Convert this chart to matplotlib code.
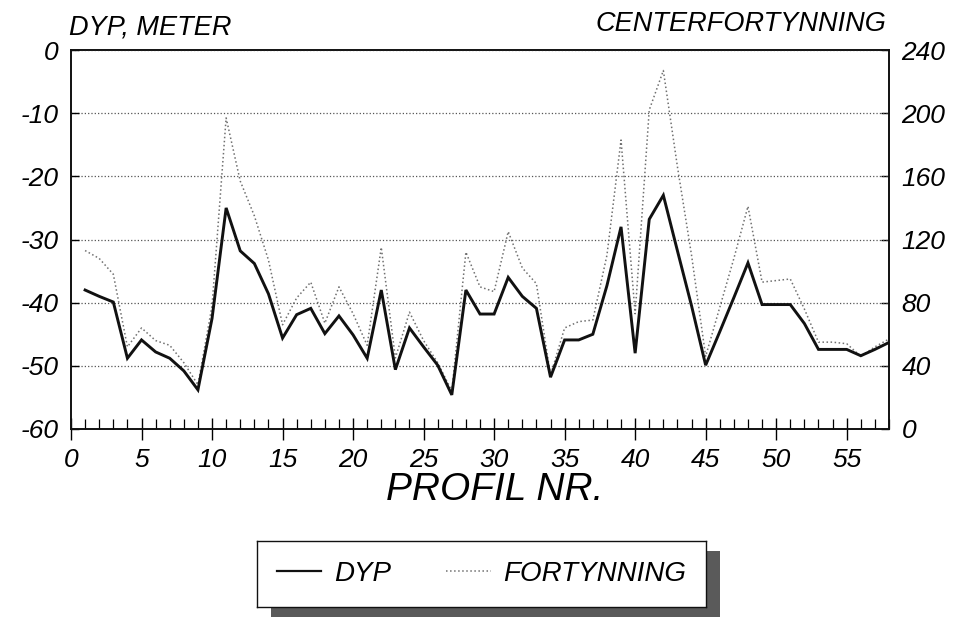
import matplotlib
matplotlib.use("Agg")
import matplotlib.pyplot as plt
from matplotlib.lines import Line2D
from matplotlib.patches import Rectangle
from matplotlib.ticker import MultipleLocator

# ---- data ----
profil = list(range(1, 59))
dyp = [-38.0, -39.0, -39.9, -48.8, -45.9, -47.8, -48.8, -50.8, -53.8, -42.5,
       -25.0, -31.8, -33.8, -38.6, -45.6, -41.9, -40.9, -44.9, -42.1, -45.1,
       -48.8, -38.0, -50.6, -44.0, -47.0, -49.9, -54.6, -38.0, -41.8, -41.8,
       -36.0, -39.0, -40.9, -51.8, -45.9, -45.9, -45.0, -37.3, -28.0, -48.0,
       -26.8, -23.0, -31.8, -40.5, -49.9, -44.6, -39.2, -33.7, -40.3, -40.3,
       -40.3, -43.3, -47.4, -47.4, -47.4, -48.4, -47.4, -46.3]
fortynning = [113, 108, 98, 52, 64, 56, 53, 42, 28, 78,
              197, 157, 135, 107, 66, 83, 93, 67, 90, 73,
              53, 115, 45, 74, 56, 42, 24, 112, 90, 87,
              125, 102, 92, 34, 64, 68, 69, 110, 183, 73,
              202, 227, 166, 110, 46, 77, 108, 141, 93, 94,
              95, 76, 55, 55, 54, 46, 52, 57]
left_ticks = [0, -10, -20, -30, -40, -50, -60]
right_ticks = [0, 40, 80, 120, 160, 200, 240]
x_ticks = [0, 5, 10, 15, 20, 25, 30, 35, 40, 45, 50, 55]
series_labels = ["DYP", "FORTYNNING"]

plt.rcParams['font.family'] = ['Liberation Sans', 'DejaVu Sans']
plt.rcParams['font.style'] = 'italic'
plt.rcParams['axes.unicode_minus'] = False

fig = plt.figure(figsize=(9.55, 6.21), dpi=100)
fig.patch.set_facecolor('white')

ax = fig.add_axes([71/955, 1 - 429/621, (889 - 71)/955, (429 - 50)/621])
ax2 = ax.twinx()

# right axis: dilution
ax2.plot(profil, fortynning, linestyle=':', color='#707070', linewidth=1.1)
ax2.set_ylim(0, 240)
ax2.set_yticks(right_ticks)
ax2.set_yticklabels([str(v) for v in right_ticks])
ax2.tick_params(axis='y', direction='in', length=6, width=1, pad=9,
                labelsize=19, right=True)

# left axis: depth
ax.plot(profil, dyp, linestyle='-', color='#111111', linewidth=2.1,
        solid_joinstyle='miter')
ax.set_zorder(ax2.get_zorder() + 1)
ax.patch.set_visible(False)
ax.set_xlim(0, 58)
ax.set_ylim(-60, 0)
ax.set_yticks(left_ticks)
ax.set_yticklabels([str(v) for v in left_ticks])
ax.set_xticks(x_ticks)
ax.set_xticklabels([str(v) for v in x_ticks])
ax.xaxis.set_minor_locator(MultipleLocator(1))
ax.tick_params(axis='y', direction='in', length=6, width=1, pad=9, labelsize=19)
ax.tick_params(axis='x', which='major', direction='inout', length=16, width=1,
               pad=6, labelsize=19)
ax.tick_params(axis='x', which='minor', direction='in', length=7, width=0.9)
ax.grid(axis='y', linestyle=':', color='#555555', linewidth=0.9)
ax.grid(axis='x', visible=False)
for a in (ax, ax2):
    for s in a.spines.values():
        s.set_linewidth(1.2)
        s.set_color('#111111')

# titles
fig.text(69/955, 1 - 35/621, "DYP, METER", ha='left', va='baseline', fontsize=19.5)
fig.text(886/955, 1 - 31/621, "CENTERFORTYNNING", ha='right', va='baseline', fontsize=19.5)
fig.text(495/955, 1 - 490/621, "PROFIL NR.", ha='center', va='center', fontsize=28)

# legend with shadow
bx0, by0, bw, bh = 257, 541, 449, 66
shadow = Rectangle(((bx0 + 14)/955, 1 - (by0 + bh + 10)/621), bw/955, bh/621,
                   transform=fig.transFigure, facecolor='#5a5a5a', edgecolor='none',
                   zorder=0)
fig.patches.append(shadow)
axl = fig.add_axes([bx0/955, 1 - (by0 + bh)/621, bw/955, bh/621])
axl.set_zorder(2)
axl.set_xticks([])
axl.set_yticks([])
axl.set_facecolor('white')
for s in axl.spines.values():
    s.set_linewidth(1.0)
    s.set_color('#111111')
h1 = Line2D([], [], color='#111111', linewidth=1.6)
h2 = Line2D([], [], color='#707070', linestyle=':', linewidth=1.1)
axl.legend([h1, h2], series_labels, loc='center', ncol=2, frameon=False,
           fontsize=20, handlelength=1.6, handletextpad=0.45, columnspacing=2.0)

fig.savefig("out.png", dpi=100, facecolor='white')
